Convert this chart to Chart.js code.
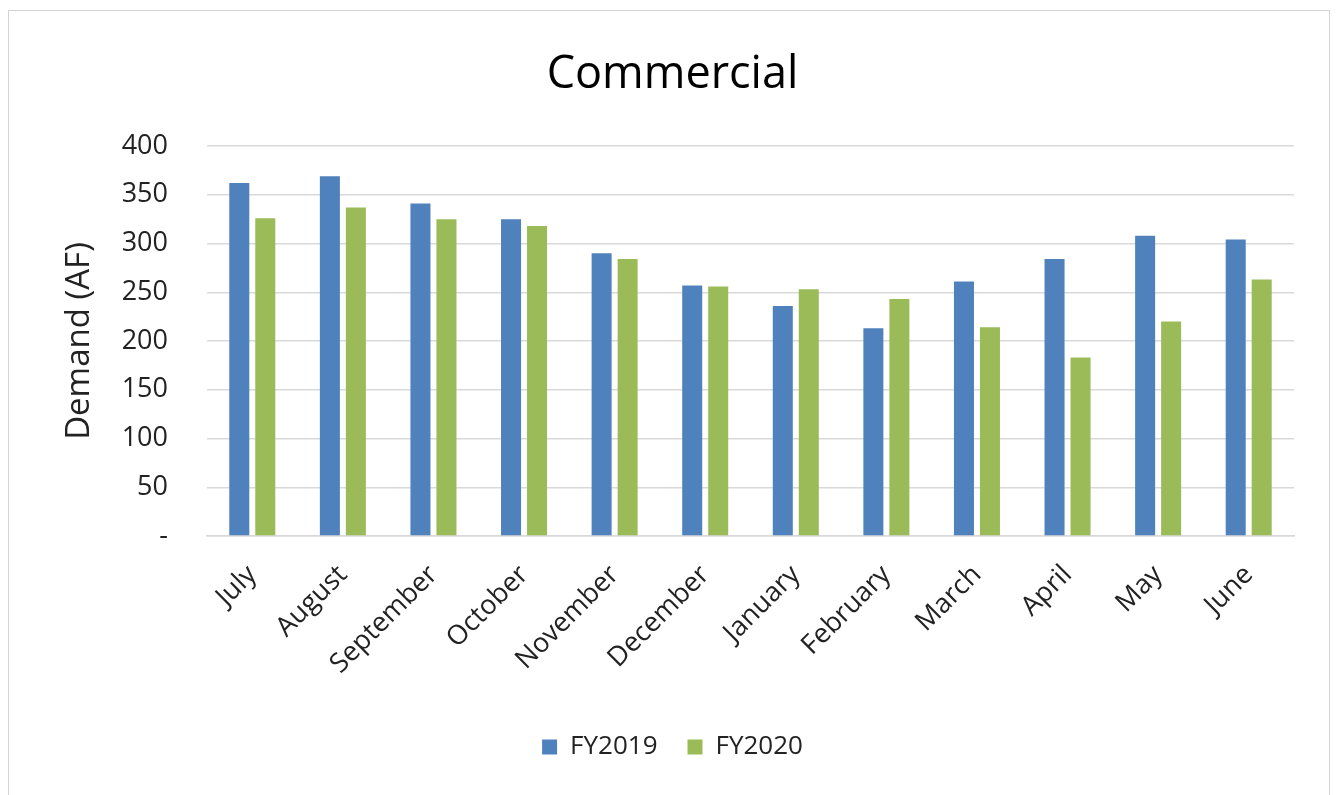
<!DOCTYPE html>
<html>
<head>
<meta charset="utf-8">
<script src="https://cdn.jsdelivr.net/npm/chart.js@4/dist/chart.umd.min.js"></script>
<style>
  html, body { margin: 0; padding: 0; background: #fff; }
  #wrap {
    position: absolute; left: 8px; top: 10px; width: 1322px; height: 790px;
    border: 1px solid #d4d4d4; box-sizing: border-box; background: #fff;
  }
  canvas { display: block; }
</style>
</head>
<body>
<div id="wrap"><canvas id="chart"></canvas></div>
<script>
const months = ["July", "August", "September", "October", "November", "December",
                "January", "February", "March", "April", "May", "June"];
const fy2019 = [362, 369, 341, 325, 290, 257, 236, 213, 261, 284, 308, 304];
const fy2020 = [326, 337, 325, 318, 284, 256, 253, 243, 214, 183, 220, 263];
const yTicks = [0, 50, 100, 150, 200, 250, 300, 350, 400];

const FONT = "'Open Sans', sans-serif";

const ctx = document.getElementById("chart").getContext("2d");
const chart = new Chart(ctx, {
    type: 'bar',
    data: {
        labels: months,
        datasets: [
            {
                label: 'FY2019',
                data: fy2019,
                backgroundColor: '#4f81bd',
                barPercentage: 0.77,
                categoryPercentage: 0.574
            },
            {
                label: 'FY2020',
                data: fy2020,
                backgroundColor: '#9bbb59',
                barPercentage: 0.77,
                categoryPercentage: 0.574
            }
        ]
    },
    options: {
        responsive: true,
        maintainAspectRatio: false,
        animation: false,
        layout: { padding: { left: 42, right: 35, top: 37, bottom: 29 } },
        plugins: {
            title: {
                display: true,
                text: 'Commercial',
                color: '#000',
                font: { family: FONT, size: 45, weight: 'normal' },
                padding: { top: 0, bottom: 44 }
            },
            legend: {
                position: 'bottom',
                labels: {
                    color: '#222',
                    font: { family: FONT, size: 26 },
                    boxWidth: 15,
                    boxHeight: 15,
                    padding: 30
                }
            },
            tooltip: { enabled: false }
        },
        scales: {
            x: {
                grid: { display: false },
                border: { color: '#d9d9d9', width: 1.5 },
                ticks: {
                    color: '#222',
                    font: { family: FONT, size: 27 },
                    minRotation: 45,
                    maxRotation: 45,
                    padding: 15
                },
                // rotated labels should not push the plot inwards
                afterFit: s => { s.paddingLeft = 0; s.paddingRight = 0; s.height = 168; }
            },
            y: {
                min: 0,
                max: 400,
                afterBuildTicks: axis => { axis.ticks = yTicks.map(v => ({ value: v })); },
                afterFit: s => { s.width = 156; },
                grid: { color: '#d9d9d9', lineWidth: 1.5, drawTicks: false },
                border: { display: false },
                ticks: {
                    color: '#222',
                    font: { family: FONT, size: 27 },
                    padding: 39,
                    callback: v => v === 0 ? '-' : v
                },
                title: {
                    display: true,
                    text: 'Demand (AF)',
                    color: '#222',
                    font: { family: FONT, size: 33 },
                    padding: { top: 9, bottom: 0 }
                }
            }
        }
    }
});
</script>
</body>
</html>
